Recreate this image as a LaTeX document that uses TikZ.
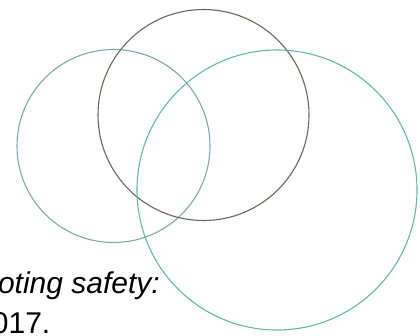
\documentclass[tikz,border=0pt]{standalone}
\usepackage{fontspec}
\setmainfont{Liberation Sans}
\definecolor{leftc}{HTML}{7FAAAA}
\definecolor{topc}{HTML}{6E665C}
\definecolor{bigc}{HTML}{62BCA2}
\begin{document}
\begin{tikzpicture}[x=1pt,y=-1pt,
  ring/.style={draw,line width=1.1pt,fill=none},
  txt/.style={inner sep=0pt,font=\fontsize{30}{35}\selectfont}]
\useasboundingbox (0,0) rectangle (420,335);
\draw[ring,leftc] (113.5,146) circle (96.5);
\draw[ring,topc] (203.5,115) circle (105.5);
\draw[ring,bigc] (277,190) circle (140);
\node[txt,anchor=base east] (l1) at (160,293) {\itshape promoting safety:};
\node[txt,anchor=base east] (l2) at (50.5,333) {2017.};
\end{tikzpicture}
\end{document}
